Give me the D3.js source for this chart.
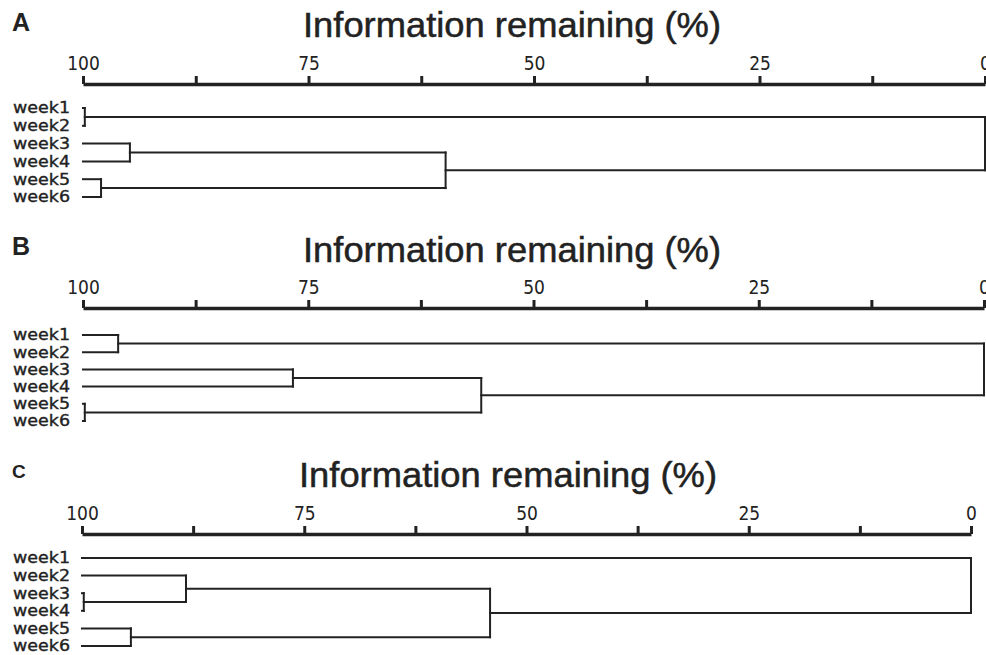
<!DOCTYPE html>
<meta charset="utf-8">
<head>
    <script src="https://d3js.org/d3.v7.min.js"></script>
    <style>
        body {
            margin: 0px;
            padding: 0px;
            background: white;
        }

        .leaf {
            font-family: 'DejaVu Sans', sans-serif;
            font-size: 15.5px;
            stroke: #222;
            stroke-width: 0.35px;
        }

        .title {
            font-family: 'Liberation Sans', Arial, sans-serif;
            font-size: 35px;
            stroke: #222;
            stroke-width: 0.5px;
        }

        .panel {
            font-family: 'Liberation Sans', Arial, sans-serif;
            font-weight: bold;
        }

        .axis text {
            font-family: 'DejaVu Sans Condensed', 'DejaVu Sans', sans-serif;
            font-size: 19px;
            fill: #222;
        }
    </style>
    <title>dendrograms</title>
</head>

<body>
    <div id="chart"></div>

    <script>
        // leaves, same order in every panel
        var weeks = ["week1", "week2", "week3", "week4", "week5", "week6"];

        var tickLabels = [100, 75, 50, 25, 0];
        var tickAll = [100, 87.5, 75, 62.5, 50, 37.5, 25, 12.5, 0];

        // merges: [child, child, information remaining (%)]
        // "m0" means the node made by the first row, "m1" the second, ...
        var linkA = [
            ["week1", "week2", 99.8],
            ["week5", "week6", 98.0],
            ["week3", "week4", 94.8],
            ["m2", "m1", 59.8],
            ["m0", "m3", 0]
        ];

        var linkB = [
            ["week5", "week6", 99.8],
            ["week1", "week2", 96.1],
            ["week3", "week4", 76.7],
            ["m2", "m0", 55.8],
            ["m1", "m3", 0]
        ];

        var linkC = [
            ["week3", "week4", 99.8],
            ["week5", "week6", 94.5],
            ["week2", "m0", 88.3],
            ["m2", "m1", 54.1],
            ["week1", "m3", 0]
        ];

        var width = 986, height = 655;

        var svg = d3.select("#chart").append("svg")
            .attr("width", width)
            .attr("height", height);

        // layout of each panel (pixels)
        var panels = [
            { name: "A", links: linkA, x0: 83, x1: 985, axisY: 84, titleY: 37, titleX: 512, labelY: 31, leafTop: 108, leafBottom: 197, labelSize: 25 },
            { name: "B", links: linkB, x0: 83, x1: 984, axisY: 308, titleY: 262, titleX: 512, labelY: 255, leafTop: 335, leafBottom: 421, labelSize: 25 },
            { name: "C", links: linkC, x0: 82, x1: 971, axisY: 534, titleY: 487, titleX: 508, labelY: 478, leafTop: 558, leafBottom: 646, labelSize: 19 }
        ];

        panels.forEach(drawPanel);

        function drawPanel(p) {
            var g = svg.append("g");

            var x = d3.scaleLinear()
                .domain([100, 0])
                .range([p.x0, p.x1]);

            var y = d3.scalePoint()
                .domain(weeks)
                .range([p.leafTop, p.leafBottom]);

            // panel letter
            g.append("text")
                .attr("class", "panel")
                .attr("x", 12)
                .attr("y", p.labelY)
                .attr("fill", "#222")
                .style("font-size", p.labelSize + "px")
                .text(p.name);

            // axis title
            g.append("text")
                .attr("class", "title")
                .attr("x", p.titleX)
                .attr("y", p.titleY)
                .attr("text-anchor", "middle")
                .attr("fill", "#222")
                .attr("textLength", 418)
                .attr("lengthAdjust", "spacingAndGlyphs")
                .text("Information remaining (%)");

            // axis on top
            var axis = d3.axisTop(x)
                .tickValues(tickAll)
                .tickSize(8)
                .tickSizeOuter(0)
                .tickPadding(6)
                .tickFormat(function (d) {
                    return tickLabels.indexOf(d) != -1 ? d : "";
                });

            var ax = g.append("g")
                .attr("class", "axis")
                .attr("transform", "translate(0," + p.axisY + ")")
                .call(axis);

            ax.select(".domain")
                .attr("stroke", "#222")
                .attr("stroke-width", 3.5);
            ax.selectAll(".tick line")
                .attr("stroke", "#222")
                .attr("stroke-width", 3);

            // leaf labels
            g.selectAll(".leaf")
                .data(weeks)
                .enter().append("text")
                .attr("class", "leaf")
                .attr("x", 13)
                .attr("y", function (d) { return y(d); })
                .attr("dy", "0.35em")
                .attr("fill", "#222")
                .attr("textLength", 57)
                .attr("lengthAdjust", "spacingAndGlyphs")
                .text(function (d) { return d; });

            // node positions
            var nodes = {};
            weeks.forEach(function (w) {
                nodes[w] = { x: x(100), y: y(w) };
            });

            var segs = [];
            p.links.forEach(function (l, i) {
                var a = nodes[l[0]], b = nodes[l[1]];
                var xm = x(l[2]);
                segs.push([a.x, a.y, xm, a.y]);
                segs.push([b.x, b.y, xm, b.y]);
                segs.push([xm, a.y, xm, b.y]);
                nodes["m" + i] = { x: xm, y: (a.y + b.y) / 2 };
            });

            g.selectAll(".seg")
                .data(segs)
                .enter().append("line")
                .attr("class", "seg")
                .attr("x1", function (d) { return d[0]; })
                .attr("y1", function (d) { return d[1]; })
                .attr("x2", function (d) { return d[2]; })
                .attr("y2", function (d) { return d[3]; })
                .attr("stroke", "#222")
                .attr("stroke-width", 2)
                .attr("stroke-linecap", "square");
        }
    </script>
</body>
